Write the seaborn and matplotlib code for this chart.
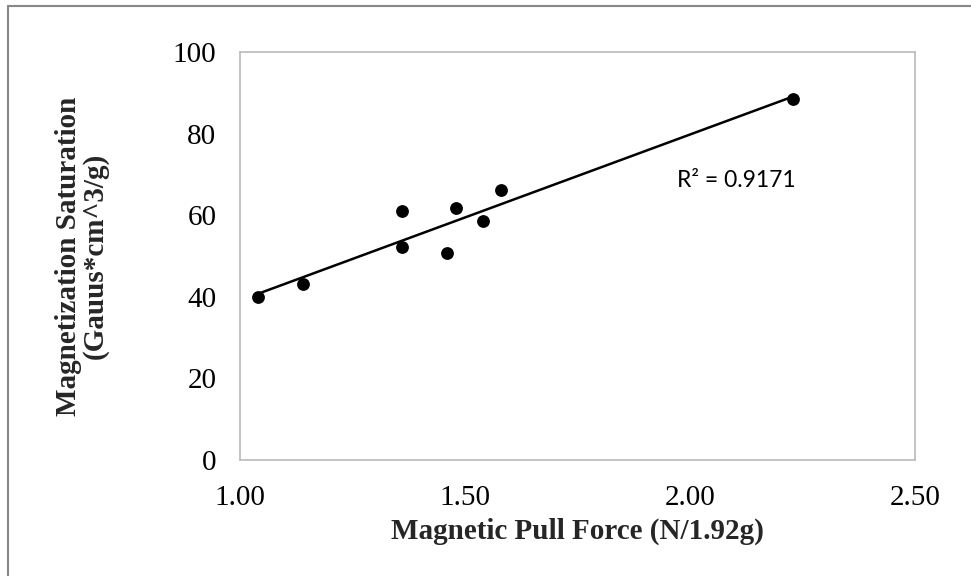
import matplotlib
matplotlib.use("Agg")
import matplotlib.pyplot as plt
import seaborn as sns
import pandas as pd
from matplotlib.lines import Line2D

# Values
pull_force = [1.04, 1.14, 1.36, 1.36, 1.46, 1.48, 1.54, 1.58, 2.23]
mag_saturation = [40.0, 43.1, 61.1, 52.3, 50.8, 61.8, 58.7, 66.2, 88.4]
x_ticks = [1.00, 1.50, 2.00, 2.50]
y_ticks = [0, 20, 40, 60, 80, 100]
r2_text = "R\u00b2 = 0.9171"

data = pd.DataFrame({'force': pull_force, 'sat': mag_saturation})

sns.set_style("white")
plt.rcParams['font.family'] = ['Liberation Serif', 'DejaVu Serif']

fig = plt.figure(figsize=(9.71, 5.76), dpi=100)
ax = fig.add_axes([0.2472, 0.2014, 0.6951, 0.7083])

# Trendline + points
sns.regplot(x='force', y='sat', data=data, ax=ax, ci=None, truncate=True,
            scatter_kws={'s': 85, 'color': 'black', 'alpha': 1, 'linewidths': 0, 'zorder': 3},
            line_kws={'color': 'black', 'linewidth': 1.8})

ax.set_xlim(1.0, 2.5)
ax.set_ylim(0, 100)
ax.set_xticks(x_ticks)
ax.set_xticklabels([f'{v:.2f}' for v in x_ticks])
ax.set_yticks(y_ticks)
ax.tick_params(axis='both', length=0, labelsize=21, colors='black')
ax.tick_params(axis='x', pad=18)
ax.tick_params(axis='y', pad=17)

for side in ax.spines.values():
    side.set_color('#bfbfbf')
    side.set_linewidth(1.3)

ax.set_xlabel('Magnetic Pull Force (N/1.92g)', fontsize=21, fontweight='bold', labelpad=5)
ax.set_ylabel('Magnetization Saturation\n(Gauus*cm^3/g)', fontsize=21, fontweight='bold',
              linespacing=1.0)
ax.yaxis.set_label_coords(-0.194, 0.5)

ax.text(1.971, 68.4, r2_text, fontsize=16.5, family=['Lato', 'DejaVu Sans'],
        va='center', ha='left', color='black')

# outer chart border (top and left edges visible)
fig.add_artist(Line2D([8 / 971, 1.0], [1 - 5.5 / 576, 1 - 5.5 / 576], color='#888888', linewidth=1.5,
                      transform=fig.transFigure))
fig.add_artist(Line2D([8 / 971, 8 / 971], [0, 1 - 5.5 / 576], color='#888888', linewidth=1.5,
                      transform=fig.transFigure))

fig.savefig('out.png', dpi=100)
